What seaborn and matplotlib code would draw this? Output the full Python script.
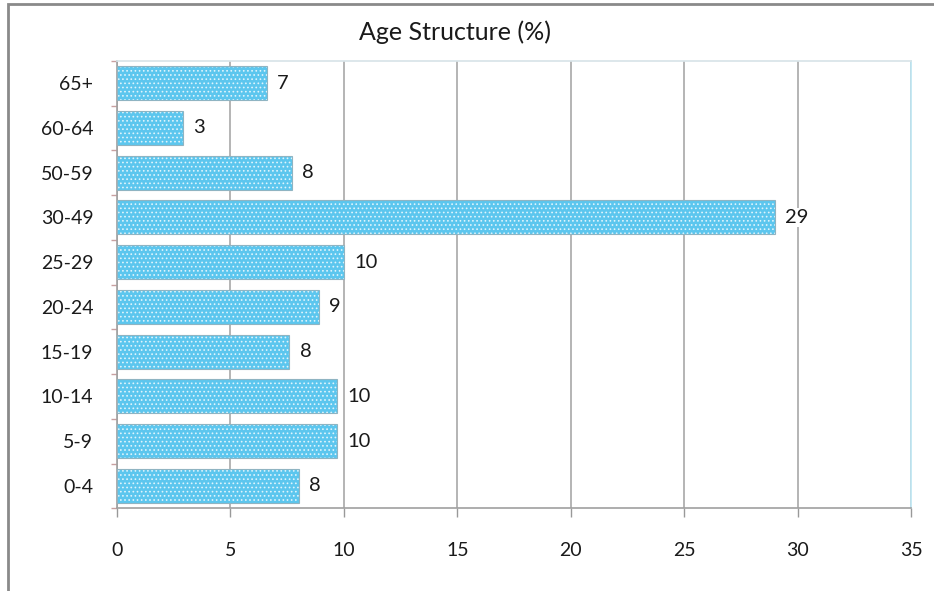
import seaborn as sns
import matplotlib.pyplot as plt
import matplotlib.patches as mpatches
import pandas as pd

# age groups, top to bottom as in the chart
age_groups = ['65+', '60-64', '50-59', '30-49', '25-29', '20-24', '15-19', '10-14', '5-9', '0-4']
shares = [6.6, 2.9, 7.7, 29.0, 10.0, 8.9, 7.6, 9.7, 9.7, 8.0]
x_ticks = [0, 5, 10, 15, 20, 25, 30, 35]

df = pd.DataFrame({'age': age_groups, 'share': shares})

sns.set_theme(style='white')
plt.rcParams['font.family'] = ['Lato', 'DejaVu Sans']
plt.rcParams['hatch.linewidth'] = 0.7

fig = plt.figure(figsize=(9.34, 5.91), dpi=100)
ax = fig.add_axes([0.1253, 0.140, 0.8501, 0.757])

# dotted light blue fill
sns.barplot(data=df, x='share', y='age', orient='h', color='#5cc6ee',
            saturation=1, width=0.76, edgecolor='#dff4fc', linewidth=0,
            hatch='....', ax=ax, zorder=2)
# thin grey outline on top
sns.barplot(data=df, x='share', y='age', orient='h', fill=False,
            width=0.76, edgecolor='#8fb4c2', linewidth=0.8, ax=ax, zorder=3)

for i, v in enumerate(shares):
    ax.text(v + 0.45, i, f'{round(v)}', va='center', ha='left',
            fontsize=14.5, color='#1a1a1a', zorder=4,
            bbox=dict(facecolor='white', edgecolor='none', pad=0.5))

ax.set_xlim(0, 35)
ax.set_ylim(9.5, -0.5)
ax.set_xticks(x_ticks)
ax.set_xticklabels([str(t) for t in x_ticks], fontsize=14, color='#1a1a1a')
ax.tick_params(axis='x', length=6.5, width=1, color='#999999', pad=18, direction='out', bottom=True)
ax.tick_params(axis='y', which='major', length=0, pad=17, labelsize=14, labelcolor='#1a1a1a')
ax.set_yticks([i - 0.5 for i in range(11)], minor=True)
ax.tick_params(axis='y', which='minor', length=4, width=1, color='#c8a0a0', left=True)
ax.set_xlabel('')
ax.set_ylabel('')

ax.grid(axis='x', color='#a8a8a8', linewidth=1.2, zorder=0)
ax.set_axisbelow(True)
for side in ['left', 'bottom']:
    ax.spines[side].set_color('#a0a0a0')
    ax.spines[side].set_linewidth(1.2)
ax.spines['top'].set_color('#d8e4e8')
ax.spines['right'].set_color('#bfe6f2')

ax.set_title('Age Structure (%)', fontsize=18, color='#1a1a1a', x=0.426, pad=15)

# outer chart frame (left and top edges visible)
frame = mpatches.Rectangle((8 / 934, -0.1), 1.2, 1.1 - 4 / 591, transform=fig.transFigure,
                           fill=False, edgecolor='#8a8a8a', linewidth=2)
fig.patches.append(frame)

fig.savefig('out.png', dpi=100)
